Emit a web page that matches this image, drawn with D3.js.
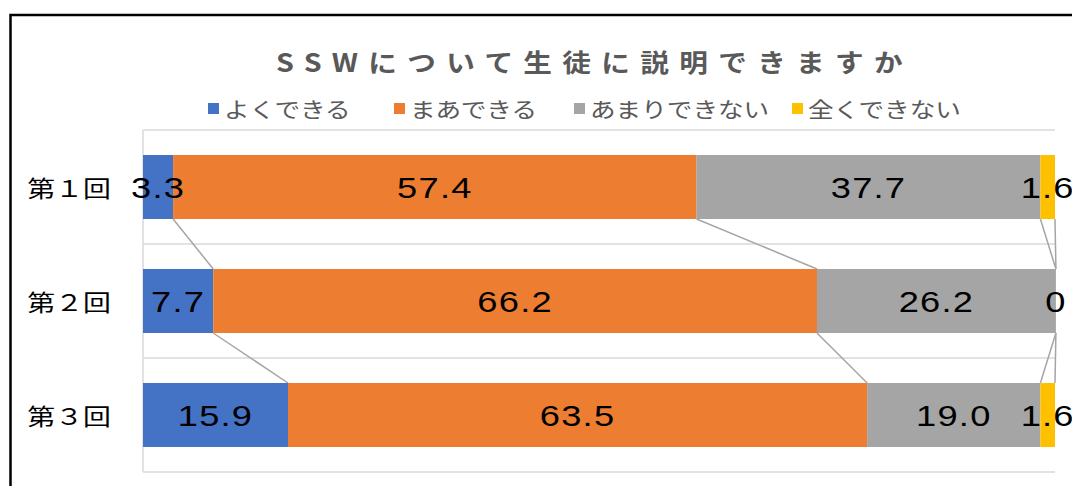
<!DOCTYPE html>
<html>
<head>
<meta charset="utf-8">
<script src="https://cdn.jsdelivr.net/npm/d3@7"></script>
<style>
  body { margin: 0; background: #fff; }
  svg { display: block; }
</style>
</head>
<body>
<div id="chart"></div>
<script>
var rounds = ["第１回", "第２回", "第３回"]
var seriesNames = ["よくできる", "まあできる", "あまりできない", "全くできない"]
var yokuDekiru = [3.3, 7.7, 15.9]
var maaDekiru = [57.4, 66.2, 63.5]
var amariDekinai = [37.7, 26.2, 19.0]
var mattakuDekinai = [1.6, 0, 1.6]
var xTicks = [0, 100]
var title = "SSWについて生徒に説明できますか"

var colors = ["#4472C4", "#ED7D31", "#A5A5A5", "#FFC000"]
var stretch = 1.22
var jpFont = "'Noto Sans CJK JP', 'Noto Sans', sans-serif"
var numFont = "'Liberation Sans', Arial, sans-serif"

var width = 1072,
  height = 486

var svg = d3.select("#chart")
  .append("svg")
  .attr("width", width)
  .attr("height", height)

// frame (runs off the right / bottom of the picture)
svg.append("rect")
  .attr("x", 10.5)
  .attr("y", 15)
  .attr("width", 1200)
  .attr("height", 600)
  .attr("fill", "none")
  .attr("stroke", "#000")
  .attr("stroke-width", 2.5)

var series = [yokuDekiru, maaDekiru, amariDekinai, mattakuDekinai]
var rows = rounds.map(function (r, i) {
  var row = { round: r }
  seriesNames.forEach(function (s, j) { row[s] = series[j][i] })
  return row
})

var stacked = d3.stack().keys(seriesNames)(rows)

var x = d3.scaleLinear()
  .domain(d3.extent(xTicks))
  .range([143, 1055])

var y = d3.scaleBand()
  .domain(rounds)
  .range([130, 472])
  .paddingInner(0.4386)
  .paddingOuter(0.2193)

// category separators
var bounds = d3.range(rounds.length + 1).map(function (i) { return y.range()[0] + i * y.step() })
svg.append("g")
  .selectAll("line")
  .data(bounds)
  .enter()
  .append("line")
  .attr("x1", x(0))
  .attr("x2", x(100))
  .attr("y1", function (d) { return d })
  .attr("y2", function (d) { return d })
  .attr("stroke", "#d9d9d9")
  .attr("stroke-width", 1.5)

svg.append("line")
  .attr("x1", x(0))
  .attr("x2", x(0))
  .attr("y1", y.range()[0])
  .attr("y2", y.range()[1])
  .attr("stroke", "#d9d9d9")
  .attr("stroke-width", 1.5)

// series lines between bars
var connectors = []
stacked.forEach(function (layer) {
  for (var i = 0; i < rounds.length - 1; i++) {
    connectors.push({
      x1: x(layer[i][1]), y1: y(rounds[i]) + y.bandwidth(),
      x2: x(layer[i + 1][1]), y2: y(rounds[i + 1])
    })
  }
})
svg.append("g")
  .selectAll("line")
  .data(connectors)
  .enter()
  .append("line")
  .attr("x1", function (d) { return d.x1 })
  .attr("y1", function (d) { return d.y1 })
  .attr("x2", function (d) { return d.x2 })
  .attr("y2", function (d) { return d.y2 })
  .attr("stroke", "#A5A5A5")
  .attr("stroke-width", 1.5)

// bars
var layers = svg.append("g")
  .selectAll("g")
  .data(stacked)
  .enter()
  .append("g")
  .attr("fill", function (d, i) { return colors[i] })

layers.selectAll("rect")
  .data(function (d) { return d })
  .enter()
  .append("rect")
  .attr("x", function (d) { return x(d[0]) })
  .attr("width", function (d) { return x(d[1]) - x(d[0]) })
  .attr("y", function (d) { return y(d.data.round) })
  .attr("height", y.bandwidth())

// data labels (the last ones run off the edge, as in the original)
var labels = []
stacked.forEach(function (layer) {
  layer.forEach(function (d) {
    labels.push({ cx: (x(d[0]) + x(d[1])) / 2, cy: y(d.data.round) + y.bandwidth() / 2, v: d[1] - d[0] })
  })
})
svg.append("g")
  .selectAll("text")
  .data(labels)
  .enter()
  .append("text")
  .attr("transform", function (d) { return "translate(" + d.cx + "," + (d.cy + 10.5) + ") scale(1.25,1)" })
  .attr("text-anchor", "middle")
  .style("font-family", numFont)
  .style("font-size", "29px")
  .style("letter-spacing", "1px")
  .attr("fill", "#000")
  .text(function (d) { return d.v === 0 ? "0" : d3.format(".1f")(d.v) })

// category labels
svg.append("g")
  .selectAll("text")
  .data(rounds)
  .enter()
  .append("text")
  .attr("transform", function (d) { return "translate(111," + (y(d) + y.bandwidth() / 2 + 9.5) + ") scale(1.24,1)" })
  .attr("text-anchor", "end")
  .style("font-family", jpFont)
  .style("font-size", "22.5px")
  .attr("fill", "#000")
  .text(function (d) { return d })

// title
svg.append("text")
  .attr("x", 276)
  .attr("y", 72)
  .attr("textLength", 637)
  .attr("lengthAdjust", "spacingAndGlyphs")
  .style("font-family", jpFont)
  .style("font-size", "25px")
  .style("font-weight", "bold")
  .style("letter-spacing", "9px")
  .attr("fill", "#595959")
  .text(title)

// legend
var legendX = [208, 394, 574, 792]
var legend = svg.append("g")
  .selectAll("g")
  .data(seriesNames)
  .enter()
  .append("g")
  .attr("transform", function (d, i) { return "translate(" + legendX[i] + ",0)" })

legend.append("rect")
  .attr("x", 0)
  .attr("y", 103)
  .attr("width", 11)
  .attr("height", 11)
  .attr("fill", function (d, i) { return colors[i] })

legend.append("text")
  .attr("transform", "translate(16,117) scale(" + stretch + ",1)")
  .style("font-family", jpFont)
  .style("font-size", "21px")
  .attr("fill", "#595959")
  .text(function (d) { return d })
</script>
</body>
</html>
